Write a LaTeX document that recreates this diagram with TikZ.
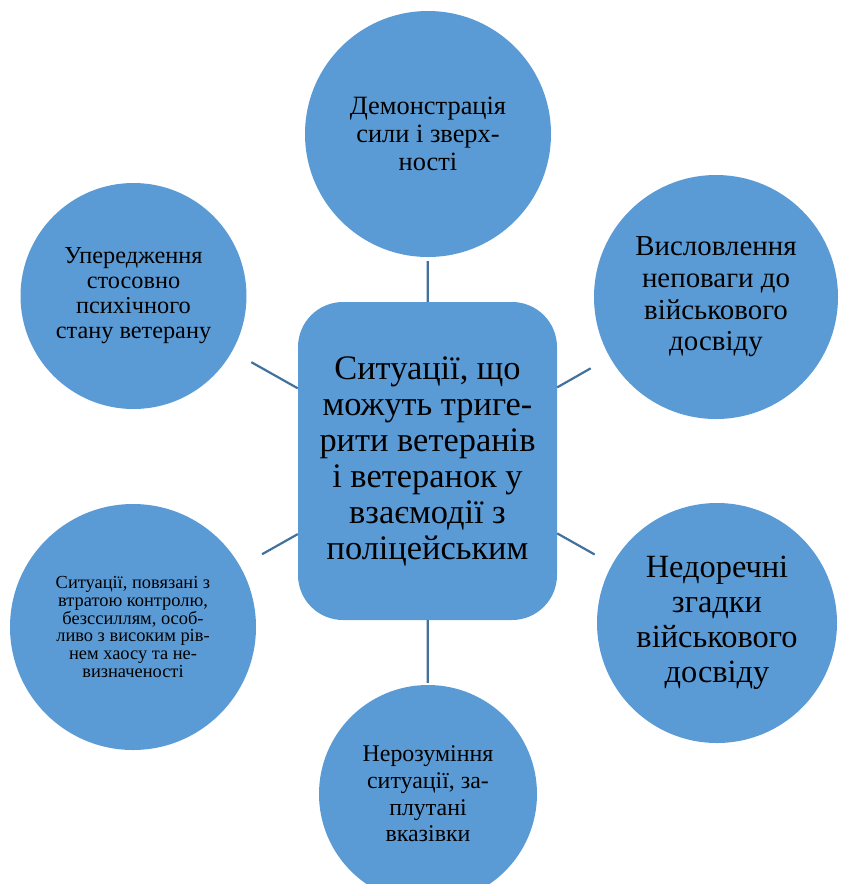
\documentclass[tikz,border=0pt]{standalone}
\usepackage{fontspec}
\setmainfont{Liberation Serif}
\definecolor{bubblefill}{RGB}{91,155,213}
\definecolor{linkcol}{RGB}{65,113,156}
\tikzset{
  bubble/.style={circle, fill=bubblefill, inner sep=0pt, align=center, text=black},
  hub/.style={rectangle, rounded corners=45pt, fill=bubblefill, inner sep=0pt, align=center, text=black},
  link/.style={draw=linkcol, line width=2.2pt}
}
\begin{document}
\begin{tikzpicture}[x=1pt,y=-1pt]
\useasboundingbox (0,0) rectangle (842,884);
\node[hub, minimum width=259pt, minimum height=318pt,
      font={\fontsize{34.4}{36}\selectfont}] (c) at (427.5,461)
  {Ситуації, що\\можуть триге-\\рити ветеранів\\і ветеранок у\\взаємодії з\\поліцейським};
\node[bubble, minimum size=246pt, font={\fontsize{26.4}{28}\selectfont}] (t) at (428,134)
  {Демонстрація\\сили і зверх-\\ності};
\node[bubble, minimum size=244pt, font={\fontsize{28.9}{31.7}\selectfont}] (ur) at (716,297)
  {Висловлення\\неповаги до\\військового\\досвіду};
\node[bubble, minimum size=240pt, font={\fontsize{32.4}{35}\selectfont}] (lr) at (717,623)
  {Недоречні\\згадки\\військового\\досвіду};
\node[bubble, minimum size=218pt, font={\fontsize{23.9}{26.7}\selectfont}] (b) at (428,794)
  {Нерозуміння\\ситуації, за-\\плутані\\вказівки};
\node[bubble, minimum size=226pt, font={\fontsize{24.3}{25}\selectfont}] (ul) at (133.5,296)
  {Упередження\\стосовно\\психічного\\стану ветерану};
\node[bubble, minimum size=246pt, font={\fontsize{18.4}{17.9}\selectfont}] (ll) at (133,627)
  {Ситуації, повязані з\\втратою контролю,\\безссиллям, особ-\\ливо з високим рів-\\нем хаосу та не-\\визначеності};
\draw[link, shorten >=4pt] (c) -- (t);
\draw[link, shorten >=22pt] (c) -- (ur);
\draw[link, shorten >=20pt] (c) -- (lr);
\draw[link, shorten >=2pt] (c) -- (b);
\draw[link, shorten >=22pt] (c) -- (ul);
\draw[link, shorten >=25pt] (c) -- (ll);
\end{tikzpicture}
\end{document}
